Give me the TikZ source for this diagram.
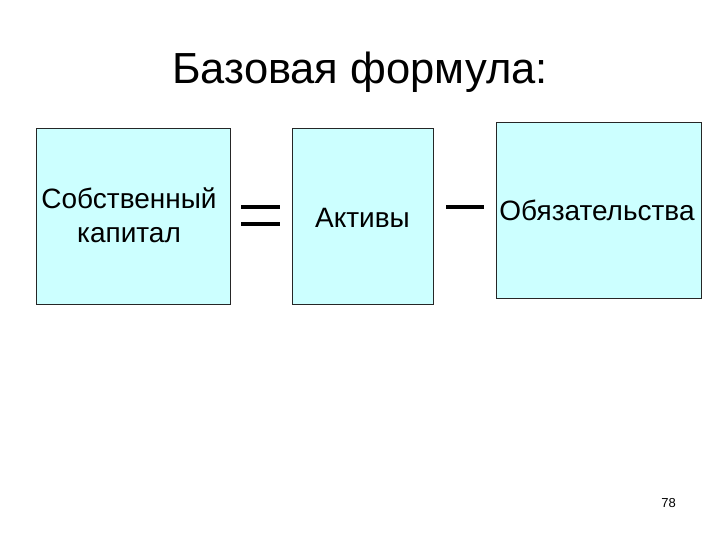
\documentclass[tikz,border=0pt]{standalone}
\usepackage{fontspec}
\setmainfont{Liberation Sans}
\definecolor{boxfill}{HTML}{CCFFFF}
\begin{document}
\begin{tikzpicture}[x=1pt,y=-1pt,
  termbox/.style={draw=black!85, line width=0.9pt, fill=boxfill, inner sep=0pt},
  termtext/.style={font=\fontsize{28}{34}\selectfont, align=center, inner sep=0pt},
  opline/.style={line width=3.4pt, draw=black}]
\useasboundingbox (0,0) rectangle (720,540);
\fill[white] (0,0) rectangle (720,540);
\node[font=\fontsize{43.5}{50}\selectfont, anchor=base, inner sep=0pt] (title) at (360,84) {Базовая формула:};
\draw[termbox] (36,128) rectangle (230,304);
\draw[termbox] (292,128) rectangle (433,304);
\draw[termbox] (496,122) rectangle (701,298);
\node[termtext, anchor=base] (t1a) at (129,209) {Собственный};
\node[termtext, anchor=base] (t1b) at (129,243) {капитал};
\node[termtext, anchor=base] (t2) at (362.5,227) {Активы};
\node[termtext, anchor=base] (t3) at (597,221) {Обязательства};
\coordinate (e1a) at (241,207); \coordinate (e1b) at (280,207);
\coordinate (e2a) at (241,224); \coordinate (e2b) at (280,224);
\draw[opline] (e1a) -- (e1b);
\draw[opline] (e2a) -- (e2b);
\coordinate (m1) at (446,207); \coordinate (m2) at (484,207);
\draw[opline] (m1) -- (m2);
\node[font=\fontsize{13}{15}\selectfont, inner sep=0pt] (pg) at (668.5,503) {78};
\end{tikzpicture}
\end{document}
